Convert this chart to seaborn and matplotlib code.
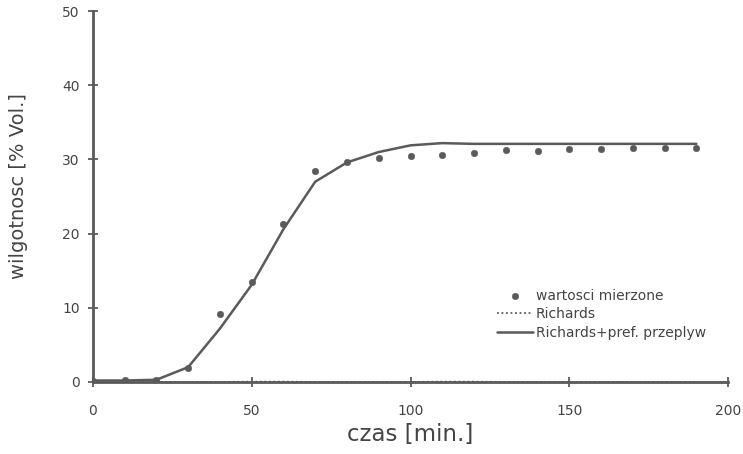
import numpy as np
import pandas as pd
import matplotlib
matplotlib.use("Agg")
import matplotlib.pyplot as plt
import seaborn as sns

# measured moisture
czas_pomiar = [0, 10, 20, 30, 40, 50, 60, 70, 80, 90, 100, 110, 120, 130, 140, 150, 160, 170, 180, 190]
wilg_pomiar = [0.2, 0.3, 0.3, 1.9, 9.1, 13.5, 21.3, 28.4, 29.6, 30.2, 30.5, 30.6, 30.9, 31.3, 31.2, 31.4, 31.4, 31.5, 31.5, 31.6]

# model curves
czas_model = [0, 10, 20, 30, 40, 50, 60, 70, 80, 90, 100, 110, 120, 130, 140, 150, 160, 170, 180, 190]
richards = [0.0, 0.0, 0.0, 0.0, 0.0, 0.05, 0.05, 0.0, 0.0, 0.0, 0.0, 0.05, 0.05, 0.0, 0.0, 0.0, 0.0, 0.0, 0.0, 0.0]
richards_pref = [0.2, 0.2, 0.3, 2.0, 7.2, 13.1, 20.6, 27.0, 29.6, 31.0, 31.9, 32.2, 32.1, 32.1, 32.1, 32.1, 32.1, 32.1, 32.1, 32.1]

x_ticks = [0, 50, 100, 150, 200]
y_ticks = [0, 10, 20, 30, 40, 50]

sns.set_theme(style="white")
plt.rcParams['font.family'] = ['DejaVu Sans']

grey = "#5a5a5a"
txt = "#444444"

fig = plt.figure(figsize=(7.43, 4.54), dpi=100)
ax = fig.add_axes([0.125, 0.1586, 0.855, 0.817])

df_p = pd.DataFrame({"czas": czas_pomiar, "w": wilg_pomiar})
df_m = pd.DataFrame({"czas": czas_model, "r": richards, "rp": richards_pref})

sns.lineplot(data=df_m, x="czas", y="r", ax=ax, color=grey, lw=1.3,
             linestyle=(0, (1, 1.5)), label="Richards", zorder=2)
sns.lineplot(data=df_m, x="czas", y="rp", ax=ax, color=grey, lw=1.8,
             label="Richards+pref. przeplyw", zorder=3)
sns.scatterplot(data=df_p, x="czas", y="w", ax=ax, color=grey, s=22,
                edgecolor=grey, label="wartosci mierzone", zorder=4)

ax.set_xlim(0, 200)
ax.set_ylim(0, 50)
ax.set_xticks(x_ticks)
ax.set_yticks(y_ticks)
ax.set_xticklabels([str(t) for t in x_ticks], fontsize=10, color=txt)
ax.set_yticklabels([str(t) for t in y_ticks], fontsize=10, color=txt)
ax.tick_params(axis="both", bottom=True, left=True, direction="inout",
               length=7, width=1.3, color=grey)
ax.tick_params(axis="x", pad=12)
ax.tick_params(axis="y", pad=6)

for side in ["top", "right"]:
    ax.spines[side].set_visible(False)
for side in ["left", "bottom"]:
    ax.spines[side].set_color(grey)
    ax.spines[side].set_linewidth(2)
ax.spines["bottom"].set_zorder(5)

ax.set_xlabel("czas [min.]", fontsize=16.5, color=txt, labelpad=4)
ax.set_ylabel("wilgotnosc [% Vol.]", fontsize=14, color=txt)
ax.yaxis.set_label_coords(-0.102, 0.527)

handles, labels = ax.get_legend_handles_labels()
order = [labels.index("wartosci mierzone"), labels.index("Richards"), labels.index("Richards+pref. przeplyw")]
leg = ax.legend([handles[i] for i in order], [labels[i] for i in order],
                loc="upper left", bbox_to_anchor=(0.628, 0.267), borderaxespad=0,
                frameon=False, fontsize=10, handlelength=2.6, handletextpad=0.15,
                labelspacing=0.33, labelcolor=txt)

fig.savefig("out.png", dpi=100)
